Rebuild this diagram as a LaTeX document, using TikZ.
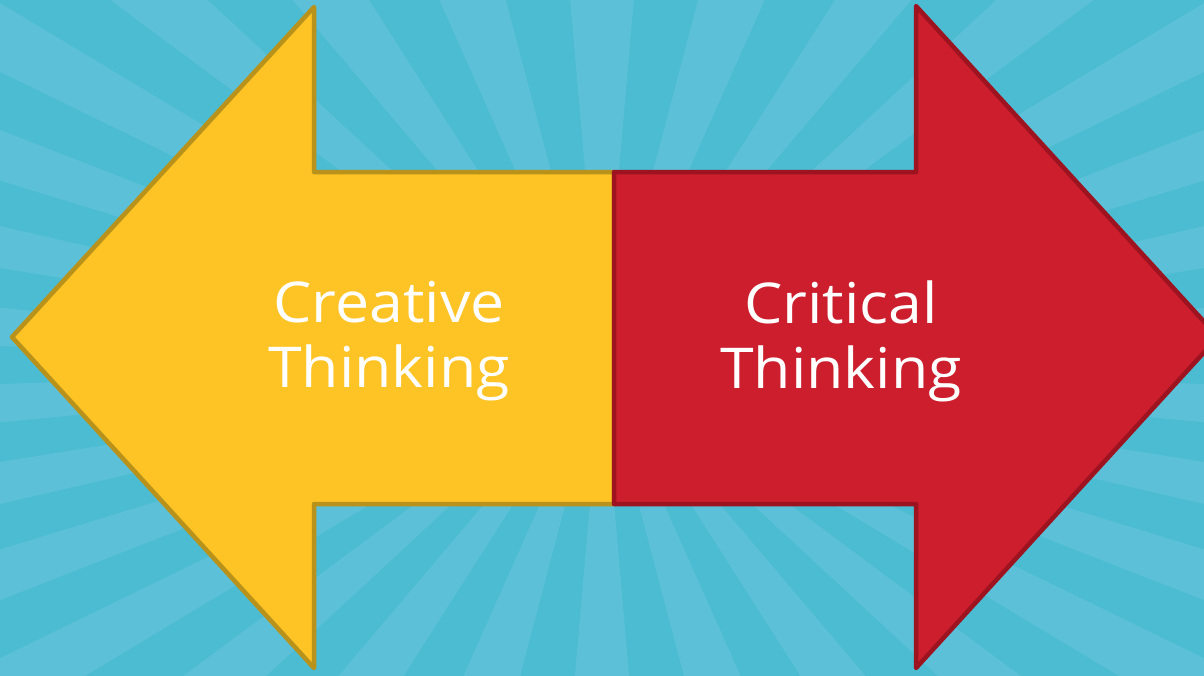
\documentclass[tikz,border=0pt]{standalone}
\usepackage{fontspec}
\setmainfont{Open Sans}
\newfontfamily\arrowfont[FakeStretch=1.08]{Open Sans}
\definecolor{bglight}{HTML}{5CC0D8}
\definecolor{bgdark}{HTML}{4BBCD1}
\definecolor{ylfill}{HTML}{FEC325}
\definecolor{yldraw}{HTML}{B8921A}
\definecolor{rdfill}{HTML}{CC1E2D}
\definecolor{rddraw}{HTML}{9E1320}
\begin{document}
\begin{tikzpicture}[x=0.01cm,y=-0.01cm,
  arrowshape/.style={line width=0.045cm, line join=round},
  arrowtext/.style={text=white, align=center, inner sep=0pt,
    font=\arrowfont\fontsize{16}{18.5}\selectfont}]
\useasboundingbox (0,0) rectangle (1204,675);
\fill[bgdark] (-20,-20) rectangle (1224,695);
\begin{scope}
\clip (-20,-20) rectangle (1224,695);
\begin{scope}[shift={(602,365)}, xscale=1.663]
\foreach \k in {0,...,29} {
  \fill[bglight] (0,0) -- ({\k*12+3}:1500) -- ({\k*12+9}:1500) -- cycle;
}
\end{scope}
\end{scope}
\draw[arrowshape, draw=yldraw, fill=ylfill]
  (614,172) -- (314,172) -- (314,7) -- (12,337) -- (314,668) -- (314,504) -- (614,504) -- cycle;
\draw[arrowshape, draw=rddraw, fill=rdfill]
  (614,172) -- (916,172) -- (916,6) -- (1218,337) -- (916,668) -- (916,504) -- (614,504) -- cycle;
\node[arrowtext] (creative) at (389,341) {Creative\\Thinking};
\node[arrowtext] (critical) at (841,341) {Critical\\Thinking};
\end{tikzpicture}
\end{document}
